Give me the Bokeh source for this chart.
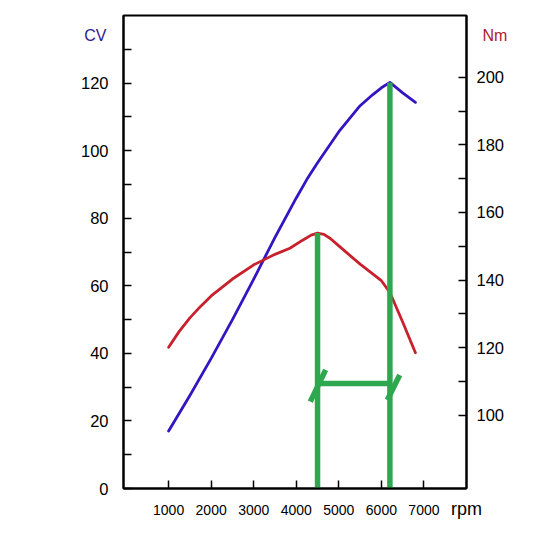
from bokeh.plotting import figure
from bokeh.models import Range1d, LinearAxis, FixedTicker
from bokeh.embed import file_html
from bokeh.resources import INLINE

# ---- data ----
power_rpm = [1000, 1500, 2000, 2500, 3000, 3500, 3750, 4000, 4250, 4500, 5000, 5500, 5800, 6000, 6200, 6500, 6800]
power_cv = [17, 27.5, 38.5, 50, 62, 74.3, 80.2, 86.0, 91.5, 96.4, 105.6, 113.3, 116.6, 118.6, 120.2, 117.1, 114.3]

torque_rpm = [1000, 1250, 1500, 1750, 2000, 2500, 3000, 3500, 3850, 4150, 4350, 4500, 4650, 4800, 5000, 5500, 6000, 6200, 6500, 6800]
torque_nm = [120.1, 124.8, 128.8, 132.2, 135.3, 140.3, 144.5, 147.6, 149.4, 151.8, 153.3, 153.9, 153.5, 152.3, 150.1, 144.7, 139.8, 136.3, 127.6, 118.5]

x_ticks = [1000, 2000, 3000, 4000, 5000, 6000, 7000]
cv_ticks = [0, 20, 40, 60, 80, 100, 120]
cv_minor = [10, 30, 50, 70, 90, 110, 130]
nm_ticks = [100, 120, 140, 160, 180, 200]
nm_minor = [110, 130, 150, 170, 190]

# axis unit labels
unit_cv = "CV"
unit_nm = "Nm"
unit_rpm = "rpm"

# green marker strokes (rpm, CV units)
green_x0 = [4500, 6200, 4500, 4330, 6140]
green_y0 = [0, 0, 31.1, 25.7, 26.2]
green_x1 = [4500, 6200, 6200, 4690, 6430]
green_y1 = [75.6, 120.2, 31.1, 35.1, 33.6]

FONT = "Liberation Sans"
BLUE = "#3515c2"
RED = "#c8202c"
GREEN = "#2ea84f"

p = figure(width=538, height=549, x_range=Range1d(-60, 8000), y_range=Range1d(0, 140),
           output_backend="svg", toolbar_location=None,
           min_border_left=123, min_border_right=72, min_border_top=15, min_border_bottom=61)
p.extra_y_ranges = {"nm": Range1d(78.3, 218.3)}

p.xgrid.visible = False
p.ygrid.visible = False
p.outline_line_color = "black"
p.outline_line_width = 2


def style_axis(ax, standoff, size):
    ax.axis_line_color = "black"
    ax.axis_line_width = 2
    ax.major_tick_in = 8
    ax.major_tick_out = 0
    ax.minor_tick_in = 8
    ax.minor_tick_out = 0
    ax.major_tick_line_width = 1.5
    ax.minor_tick_line_width = 1.5
    ax.major_label_text_font = FONT
    ax.major_label_text_font_size = size
    ax.major_label_text_color = "black"
    ax.major_label_standoff = standoff


def unit_axis(ax, tick, text, color, size, standoff):
    ax.ticker = FixedTicker(ticks=[tick], minor_ticks=[])
    ax.major_label_overrides = {tick: text}
    ax.axis_line_color = None
    ax.major_tick_line_color = None
    ax.minor_tick_line_color = None
    ax.major_tick_in = 0
    ax.major_tick_out = 0
    ax.minor_tick_in = 0
    ax.minor_tick_out = 0
    ax.major_label_text_font = FONT
    ax.major_label_text_font_size = size
    ax.major_label_text_color = color
    ax.major_label_standoff = standoff


xa = p.xaxis[0]
xa.ticker = FixedTicker(ticks=x_ticks)
style_axis(xa, 16, "14px")

ya = p.yaxis[0]
ya.ticker = FixedTicker(ticks=cv_ticks, minor_ticks=cv_minor)
style_axis(ya, 15, "16.5px")

ra = LinearAxis(y_range_name="nm")
ra.ticker = FixedTicker(ticks=nm_ticks, minor_ticks=nm_minor)
style_axis(ra, 10, "16.5px")
p.add_layout(ra, "right")

# unit captions placed as lone tick labels of bare extra axes
cv_ax = LinearAxis()
unit_axis(cv_ax, 134.1, unit_cv, "#2d1b8c", "16px", -29)
p.add_layout(cv_ax, "left")

nm_ax = LinearAxis()
unit_axis(nm_ax, 134.1, unit_nm, "#b01a2a", "16px", -25)
p.add_layout(nm_ax, "right")

rpm_ax = LinearAxis()
unit_axis(rpm_ax, 8000, unit_rpm, "black", "18px", -19)
p.add_layout(rpm_ax, "below")

p.line(power_rpm, power_cv, line_color=BLUE, line_width=2.8, line_cap="round", line_join="round")
p.line(torque_rpm, torque_nm, y_range_name="nm", line_color=RED, line_width=2.8,
       line_cap="round", line_join="round")
p.segment(x0=green_x0, y0=green_y0, x1=green_x1, y1=green_y1, line_color=GREEN, line_width=5.5)

open("out.html", "w").write(file_html(p, INLINE))
